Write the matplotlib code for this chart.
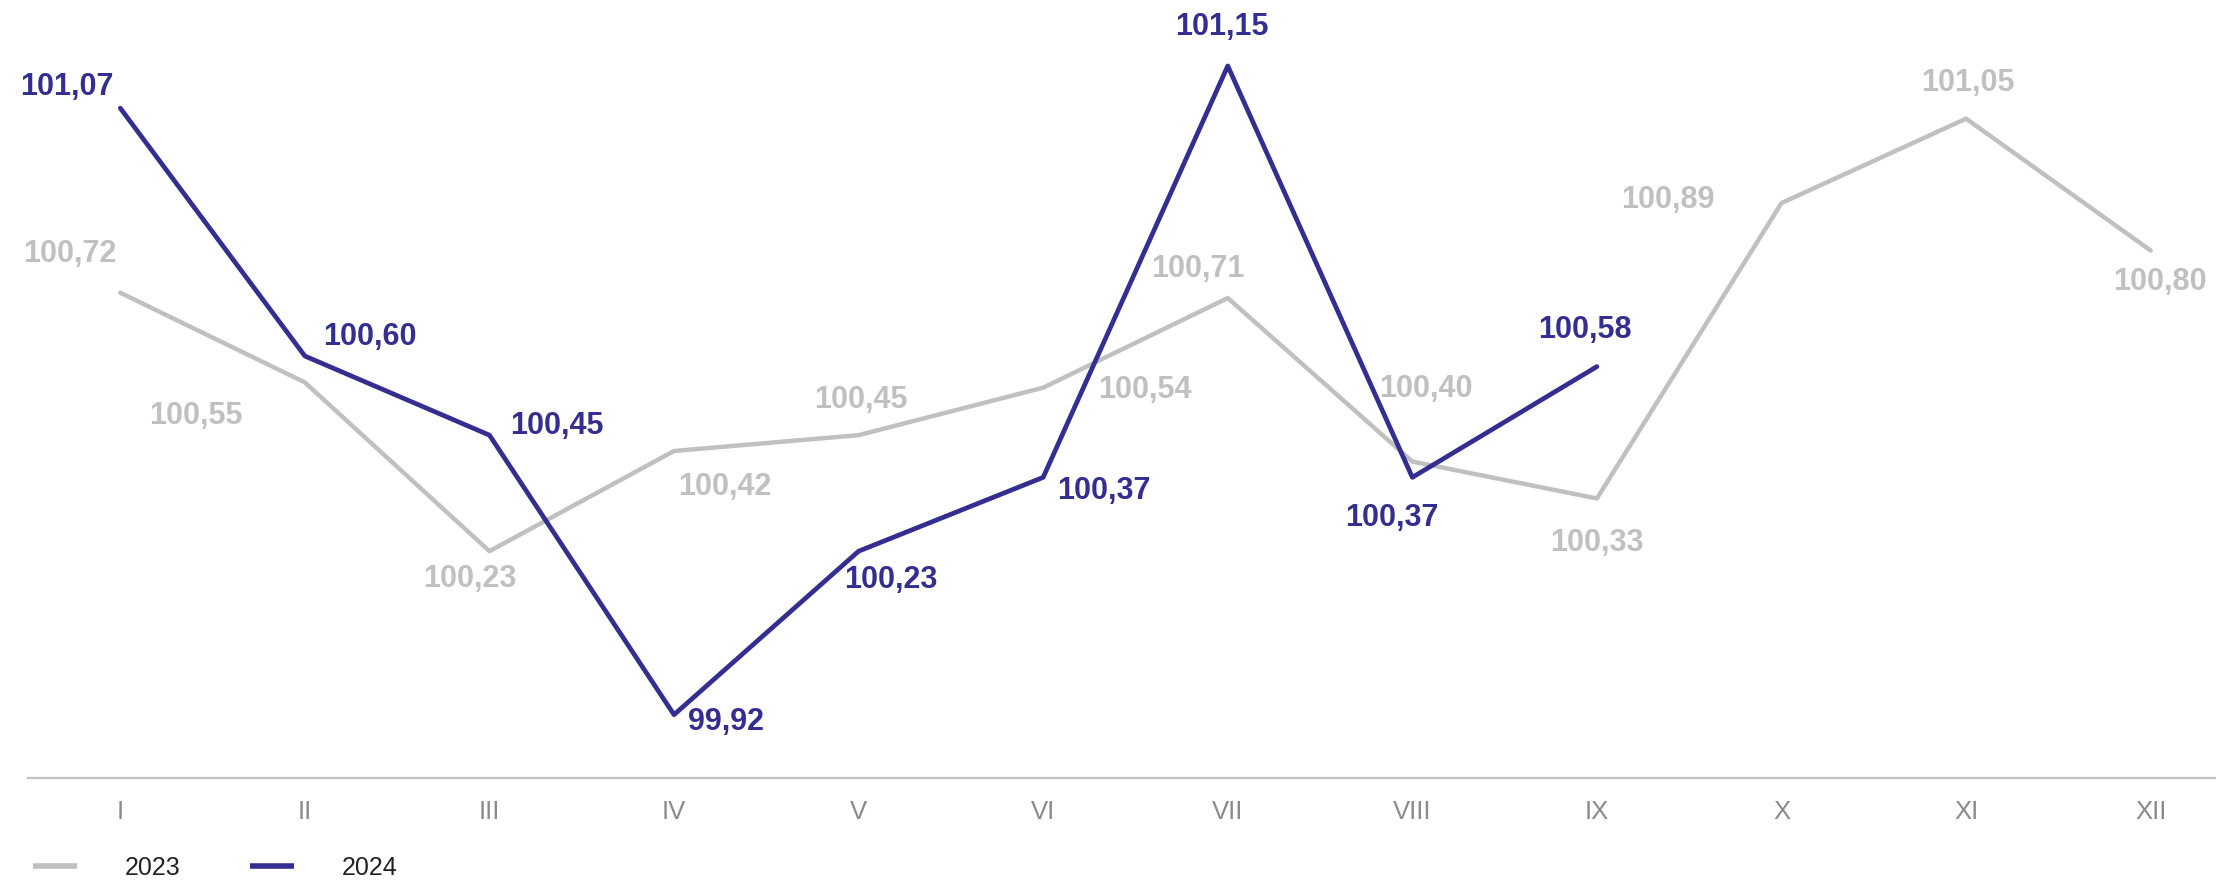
import matplotlib
matplotlib.use("Agg")
import matplotlib.pyplot as plt

plt.rcParams['font.family'] = ['Liberation Sans', 'DejaVu Sans']

months = ["I", "II", "III", "IV", "V", "VI", "VII", "VIII", "IX", "X", "XI", "XII"]
values_2023 = [100.72, 100.55, 100.23, 100.42, 100.45, 100.54, 100.71, 100.40, 100.33, 100.89, 101.05, 100.80]
values_2024 = [101.07, 100.60, 100.45, 99.92, 100.23, 100.37, 101.15, 100.37, 100.58]

# label offsets in pixels (dx, dy)
offsets_2023 = [(-50, 39), (-109, -34), (-20, -28), (51, -36), (2, 35), (102, -2),
                (-30, 29), (14, 73), (0, -45), (-114, 3), (2, 36), (9, -31)]
offsets_2024 = [(-53, 21), (65, 19), (67, 9), (52, -7), (32, -29), (61, -14),
                (-6, 39), (-20, -41), (-12, 37)]

GRAY = "#c0c0c0"
NAVY = "#332e8f"

W, H = 2216, 880
fig = plt.figure(figsize=(W / 100, H / 100), dpi=100)
ax = fig.add_axes([28 / W, 1 - 778 / H, (W - 28) / W, 778 / H])

x23 = list(range(len(values_2023)))
x24 = list(range(len(values_2024)))
ax.plot(x23, values_2023, color=GRAY, lw=3.2, solid_capstyle="round", label="2023", zorder=2)
ax.plot(x24, values_2024, color=NAVY, lw=3.4, solid_capstyle="round", label="2024", zorder=3)

def fmt(v):
    return f"{v:.2f}".replace(".", ",")

for x, v, (dx, dy) in zip(x23, values_2023, offsets_2023):
    ax.annotate(fmt(v), (x, v), xytext=(dx, dy), textcoords="offset pixels",
                ha="center", va="center", fontsize=22, fontweight="bold", color=GRAY)
for x, v, (dx, dy) in zip(x24, values_2024, offsets_2024):
    ax.annotate(fmt(v), (x, v), xytext=(dx, dy), textcoords="offset pixels",
                ha="center", va="center", fontsize=22, fontweight="bold", color=NAVY)

ax.set_xlim(-0.5, 11.354)
ax.set_ylim(99.80, 101.275)
ax.set_xticks(x23)
ax.set_xticklabels(months)
ax.set_yticks([])
ax.tick_params(axis="x", length=0, pad=16, labelsize=18.5, labelcolor="#8a8a8a")
for s in ["top", "left", "right"]:
    ax.spines[s].set_visible(False)
ax.spines["bottom"].set_color(GRAY)
ax.spines["bottom"].set_linewidth(1.6)

leg = fig.legend(loc="center left", bbox_to_anchor=(33 / W, 1 - 868 / H), ncol=2,
                 frameon=False, fontsize=18, handlelength=1.76, handletextpad=1.9,
                 columnspacing=2.8, borderpad=0, borderaxespad=0)
for line in leg.get_lines():
    line.set_linewidth(4.0)
    line.set_solid_capstyle("butt")
for t in leg.get_texts():
    t.set_color("#222222")

fig.savefig("out.png", dpi=100)
